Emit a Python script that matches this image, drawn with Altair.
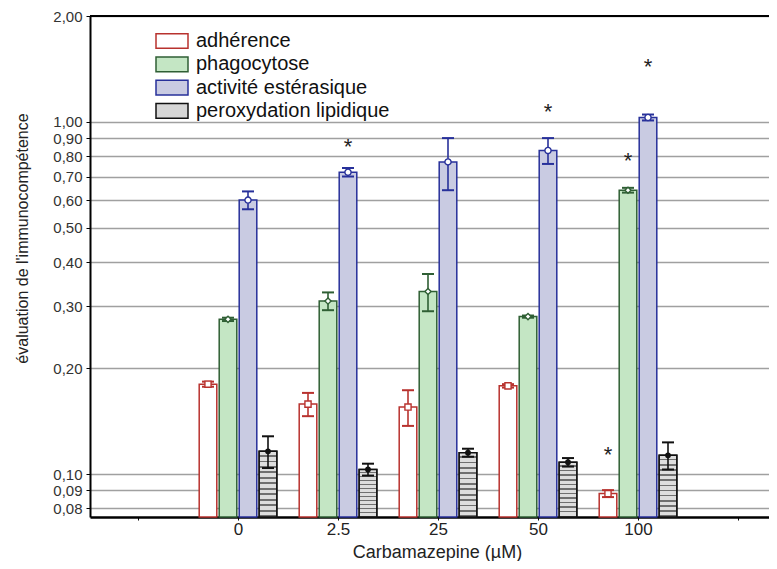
import json
import altair as alt
import pandas as pd

categories = ["0", "2.5", "25", "50", "100"]
series = ["adhérence", "phagocytose", "activité estérasique", "peroxydation lipidique"]

adherence = [0.180, 0.158, 0.155, 0.178, 0.088]
adherence_err = [0.003, 0.012, 0.018, 0.002, 0.002]
phagocytose = [0.275, 0.310, 0.330, 0.280, 0.640]
phagocytose_err = [0.003, 0.018, 0.040, 0.002, 0.010]
esterase = [0.600, 0.720, 0.770, 0.830, 1.030]
esterase_err = [0.035, 0.020, 0.130, 0.070, 0.020]
peroxydation = [0.116, 0.103, 0.115, 0.108, 0.113]
peroxydation_err = [0.012, 0.004, 0.003, 0.003, 0.010]

star_category = ["2.5", "50", "100", "100", "100"]
star_series = ["activité estérasique", "activité estérasique", "adhérence", "phagocytose", "activité estérasique"]
star_value = [0.877, 1.10, 0.117, 0.80, 1.48]

y_ticks = [0.08, 0.09, 0.10, 0.20, 0.30, 0.40, 0.50, 0.60, 0.70, 0.80, 0.90, 1.00, 2.00]
x_ticks = [-1, 0, 1, 2, 3, 4, 5]

fills = ["#ffffff", "#c4e6c4", "#c9cbe2", "#d6d6d6"]
strokes = ["#b8322e", "#2f5f34", "#27309a", "#111111"]
shapes = ["square", "diamond", "circle"]

series_offset = [-0.3, -0.1, 0.1, 0.3]
bar_half = 0.088
cap_half = 0.06
y_min = 0.0755
y_max = 2.0

values = [adherence, phagocytose, esterase, peroxydation]
errors = [adherence_err, phagocytose_err, esterase_err, peroxydation_err]
rows = []
for j, s in enumerate(series):
    for i, c in enumerate(categories):
        v = values[j][i]
        e = errors[j][i]
        xc = i + series_offset[j]
        rows.append(dict(category=c, series=s, value=v, lo=v - e, hi=v + e, base=y_min,
                         xc=xc, xl=xc - bar_half, xr=xc + bar_half,
                         cl=xc - cap_half, cr=xc + cap_half))
df = pd.DataFrame(rows)

stars = pd.DataFrame({
    "category": star_category,
    "series": star_series,
    "value": star_value,
})
stars["xc"] = [categories.index(c) + series_offset[series.index(s)]
               for c, s in zip(star_category, star_series)]

x_scale = alt.Scale(domain=[-1.48, 5.31], nice=False, zero=False)
y_scale = alt.Scale(type="log", domain=[y_min, y_max], nice=False)

x_axis = alt.Axis(
    values=x_ticks,
    labelExpr="datum.value >= 0 && datum.value <= 4 ? " + json.dumps(categories) + "[datum.value] : ''",
    grid=False, domainColor="black", domainWidth=2.5, tickColor="black", tickSize=3,
    labelFontSize=17, labelPadding=1, labelColor="#222", labelFlush=False, labelOverlap=False,
    title="Carbamazepine (µM)", titleFontSize=18, titleFontWeight="normal", titleColor="#222",
    titleX=347, titleY=40, titleAlign="center", titleBaseline="alphabetic",
)
y_axis = alt.Axis(
    values=y_ticks,
    labelExpr="replace(format(datum.value, '.2f'), '.', ',')",
    grid=True, gridColor="#a0a0a0", gridWidth=1.5,
    domainColor="black", domainWidth=2, tickColor="black", tickSize=4,
    labelFontSize=15, labelPadding=4, labelColor="#333", labelOverlap=False,
    title="évaluation de l'immunocompétence", titleFontSize=16, titleFontWeight="normal",
    titleColor="#222", titleX=-63, titleY=222, titleAngle=270, titleAlign="center",
    titleBaseline="alphabetic",
)

fill_scale = alt.Scale(domain=series, range=fills)
stroke_scale = alt.Scale(domain=series, range=strokes)
legend = alt.Legend(
    title=None, orient="none", legendX=72, legendY=15, padding=0,
    symbolType="M-2,-0.92H2V0.92H-2Z", symbolSize=256, symbolStrokeWidth=1.5,
    labelFontSize=20, labelColor="#111", labelOffset=14, rowPadding=1.3, labelLimit=0,
)

base = alt.Chart(df)

bars = base.mark_bar(strokeWidth=1.5).encode(
    x=alt.X("xl:Q", scale=x_scale, axis=x_axis),
    x2="xr:Q",
    y=alt.Y("value:Q", scale=y_scale, axis=y_axis),
    y2="base:Q",
    fill=alt.Fill("series:N", scale=fill_scale, legend=legend),
    stroke=alt.Stroke("series:N", scale=stroke_scale, legend=legend),
)

stops = []
n_stripes = 12
for k in range(n_stripes):
    a = k / n_stripes
    b = (k + 0.68) / n_stripes
    c = (k + 1) / n_stripes
    stops += [alt.GradientStop(color="#dedede", offset=a),
              alt.GradientStop(color="#dedede", offset=b),
              alt.GradientStop(color="#707070", offset=b),
              alt.GradientStop(color="#707070", offset=c)]
stripe = alt.LinearGradient(gradient="linear", stops=stops, x1=0, x2=0, y1=0, y2=1)

perox = base.transform_filter(alt.datum.series == series[3]).mark_bar(
    fill=stripe, stroke="#111111", strokeWidth=1.5
).encode(
    x=alt.X("xl:Q", scale=x_scale, axis=x_axis),
    x2="xr:Q",
    y=alt.Y("value:Q", scale=y_scale, axis=y_axis),
    y2="base:Q",
)

err = base.mark_rule(strokeWidth=1.6).encode(
    x=alt.X("xc:Q", scale=x_scale, axis=x_axis),
    y=alt.Y("lo:Q", scale=y_scale, axis=y_axis),
    y2="hi:Q",
    stroke=alt.Stroke("series:N", scale=stroke_scale, legend=None),
)
cap_hi = base.mark_rule(strokeWidth=2).encode(
    x=alt.X("cl:Q", scale=x_scale, axis=x_axis),
    x2="cr:Q",
    y=alt.Y("hi:Q", scale=y_scale, axis=y_axis),
    stroke=alt.Stroke("series:N", scale=stroke_scale, legend=None),
)
cap_lo = base.mark_rule(strokeWidth=2).encode(
    x=alt.X("cl:Q", scale=x_scale, axis=x_axis),
    x2="cr:Q",
    y=alt.Y("lo:Q", scale=y_scale, axis=y_axis),
    stroke=alt.Stroke("series:N", scale=stroke_scale, legend=None),
)
marker_layers = []
for j in range(3):
    marker_layers.append(
        base.transform_filter(alt.datum.series == series[j]).mark_point(
            shape=shapes[j], size=38, strokeWidth=1.4, fill="white", fillOpacity=1,
            opacity=1, stroke=strokes[j]
        ).encode(
            x=alt.X("xc:Q", scale=x_scale, axis=x_axis),
            y=alt.Y("value:Q", scale=y_scale, axis=y_axis),
        )
    )
perox_markers = base.transform_filter(alt.datum.series == series[3]).mark_circle(
    size=34, color="#111111", opacity=1
).encode(
    x=alt.X("xc:Q", scale=x_scale, axis=x_axis),
    y=alt.Y("value:Q", scale=y_scale, axis=y_axis),
)
star_marks = alt.Chart(stars).mark_text(
    text="*", fontSize=22, color="#222", baseline="alphabetic", dy=12
).encode(
    x=alt.X("xc:Q", scale=x_scale, axis=x_axis),
    y=alt.Y("value:Q", scale=y_scale, axis=y_axis),
)
top_rule = alt.Chart(pd.DataFrame({"top": [y_max]})).mark_rule(
    color="black", strokeWidth=2
).encode(y=alt.Y("top:Q", scale=y_scale, axis=y_axis))

chart = alt.layer(
    bars, perox, err, cap_hi, cap_lo, *marker_layers, perox_markers, star_marks, top_rule
).properties(
    width=679, height=501,
    autosize=alt.AutoSizeParams(type="none"),
    padding={"left": 82, "top": 8, "right": 0, "bottom": 44},
).configure_view(stroke=None).configure(font="Liberation Sans")

chart.save("out.html", embed_options={"renderer": "svg", "actions": False})
